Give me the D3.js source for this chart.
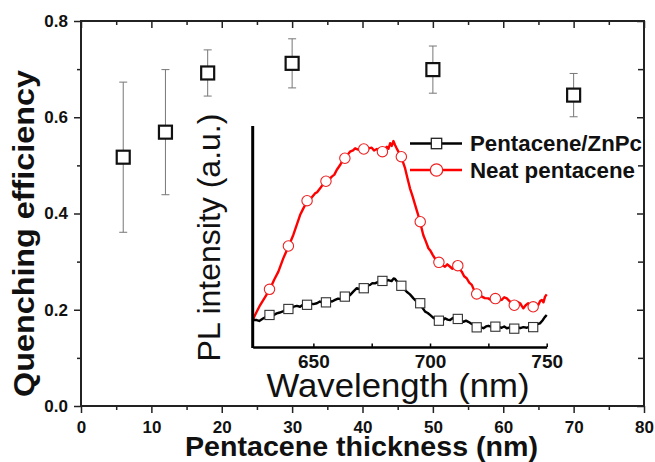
<!DOCTYPE html>
<html><head><meta charset="utf-8">
<script src="https://cdn.jsdelivr.net/npm/d3@7/dist/d3.min.js"></script>
<style>
html,body{margin:0;padding:0;background:#fff;}
svg{display:block;font-family:"Liberation Sans",Arial,sans-serif;}
</style></head>
<body><svg id="c" width="655" height="462"></svg>
<script>
// ---- main chart data ----
const thickness = [6, 12, 18, 30, 50, 70];
const efficiency = [0.517, 0.569, 0.692, 0.712, 0.699, 0.646];
const errors = [0.156, 0.130, 0.048, 0.051, 0.049, 0.045];
const xTicks = [0, 10, 20, 30, 40, 50, 60, 70, 80];
const yTicks = [0.0, 0.2, 0.4, 0.6, 0.8];

// ---- inset data (PL spectra, arbitrary units) ----
const wlTicks = [650, 700, 750];
const neatWl = [624.0,625.5,627.2,629.3,631.4,633.2,635.0,637.1,639.3,641.4,642.8,644.3,645.6,647.2,648.9,650.7,651.6,652.9,654.1,655.4,656.6,657.9,659.0,660.0,661.6,663.3,664.5,665.7,667.0,667.9,669.5,671.4,672.8,674.0,675.0,676.0,677.2,678.3,679.3,680.5,681.5,682.2,682.9,683.6,684.3,685.0,685.7,687.6,689.3,690.3,691.4,692.5,693.6,694.7,695.7,697.1,698.2,699.3,700.2,701.2,702.4,703.6,705.0,706.4,707.4,708.6,709.6,710.6,711.9,713.6,714.6,715.7,716.8,717.9,719.0,720.0,721.0,722.2,723.5,725.0,726.4,727.9,729.2,730.7,731.8,732.9,734.3,735.2,736.1,737.3,738.6,739.3,740.0,741.0,742.1,743.2,744.3,745.4,746.4,747.2,747.9,748.6,749.3,750.0];
const neatPL = [12.2,15.5,19.0,22.6,26.2,30.4,34.1,40.1,45.4,50.7,55.0,59.7,62.5,65.7,67.2,69.5,70.0,71.8,73.6,74.8,75.6,77.1,78.0,80.1,82.6,85.7,86.8,88.4,89.0,89.9,89.2,89.6,89.1,90.0,90.2,88.9,89.6,88.8,88.4,89.5,90.6,89.7,92.2,91.0,93.2,91.4,89.9,86.1,80.9,76.5,71.8,68.3,64.3,60.5,56.7,50.7,47.8,44.7,43.5,41.6,39.6,38.6,37.2,36.3,37.4,36.3,35.4,36.8,36.3,34.1,32.0,31.1,29.1,28.1,25.4,23.5,23.9,22.8,22.1,22.0,21.1,22.3,21.0,21.3,22.5,22.0,20.5,19.5,19.0,20.4,19.8,18.6,17.5,18.9,19.8,18.4,18.6,19.6,19.0,20.8,21.3,20.2,22.8,23.8];
const blendWl = [624.0,625.7,626.8,628.6,629.8,631.1,632.5,634.3,635.6,637.2,639.0,640.4,641.6,642.9,644.3,645.7,647.2,648.5,650.0,651.5,652.8,654.0,655.4,656.8,658.0,659.3,660.6,662.0,663.3,664.5,665.7,667.2,668.6,670.0,671.4,672.8,674.3,675.3,676.4,677.8,679.3,680.8,682.1,683.5,684.4,685.0,686.0,687.2,688.6,690.0,691.4,692.9,694.2,695.4,696.6,697.9,699.0,700.0,701.2,702.4,703.6,704.6,705.5,706.4,707.5,708.6,709.8,710.8,711.9,713.0,714.3,715.4,716.4,717.6,718.8,720.0,721.4,722.9,724.0,725.0,726.5,727.9,729.3,730.7,731.8,732.9,734.5,736.1,737.3,738.6,740.0,741.5,742.9,744.3,745.7,747.1,748.2,749.1,750.0];
const blendPL = [12.2,12.2,11.8,13.0,13.6,14.5,14.2,15.2,15.6,16.2,17.8,17.3,18.3,18.6,18.2,19.2,19.3,19.7,19.4,19.8,20.6,20.0,20.2,20.9,20.6,21.3,21.9,21.6,22.8,22.9,23.5,25.2,26.6,26.1,26.8,27.7,28.1,28.9,28.8,29.5,30.0,29.6,30.3,29.8,31.0,30.8,29.4,27.7,26.5,25.0,23.8,22.0,20.6,19.8,18.0,16.0,15.4,14.5,13.4,12.6,11.8,12.6,12.1,13.0,12.4,12.2,13.1,12.5,13.0,12.4,11.4,11.9,11.4,10.6,10.1,9.2,9.0,8.5,9.3,9.6,9.1,9.6,9.2,8.7,9.3,8.5,8.9,8.7,9.1,8.5,9.0,8.7,9.4,10.0,10.3,10.7,12.0,13.4,14.5];
const markerWl = [631.2,639.3,647.3,655.4,663.5,671.6,679.6,687.7,695.8,703.8,711.9,720.0,728.0,736.1,744.2];
const neatMarkers = [26.1,45.7,66.2,75.0,85.4,89.6,88.4,86.1,56.7,38.3,36.8,24.0,21.9,18.9,18.2];
const blendMarkers = [14.5,17.2,19.1,20.2,22.8,26.6,29.9,27.7,19.8,11.9,12.7,8.9,9.2,8.3,9.0];
const legendLabels = ["Pentacene/ZnPc", "Neat pentacene"];

const svg = d3.select("#c");

// ---- main scales ----
const x = d3.scaleLinear().domain([0, 80]).range([81, 644]);
const y = d3.scaleLinear().domain([0, 0.8]).range([406, 21]);

// ---- inset scales ----
const ix = d3.scaleLinear().domain([624, 750]).range([252.7, 546.7]);
const iy = d3.scaleLinear().domain([0, 100]).range([347, 126]);

// ---- main data: error bars + squares ----
const gm = svg.append("g");
thickness.forEach((t, i) => {
  const cx = x(t), lo = y(efficiency[i] - errors[i]), hi = y(efficiency[i] + errors[i]);
  gm.append("line").attr("x1", cx).attr("x2", cx).attr("y1", lo).attr("y2", hi)
    .attr("stroke", "#777").attr("stroke-width", 1);
  [lo, hi].forEach(v => gm.append("line").attr("x1", cx - 4).attr("x2", cx + 4)
    .attr("y1", v).attr("y2", v).attr("stroke", "#777").attr("stroke-width", 1));
});
gm.selectAll("rect.pt").data(thickness).join("rect").attr("class", "pt")
  .attr("x", d => x(d) - 6.5).attr("y", (d, i) => y(efficiency[i]) - 6.5)
  .attr("width", 13).attr("height", 13)
  .attr("fill", "#fff").attr("stroke", "#111").attr("stroke-width", 2.2);

// ---- inset ----
const gi = svg.append("g");
const line = d3.line().x(d => ix(d[0])).y(d => iy(d[1]));
gi.append("path").datum(neatWl.map((w, i) => [w, neatPL[i]])).attr("d", line)
  .attr("fill", "none").attr("stroke", "#ff0000").attr("stroke-width", 2.4).attr("stroke-linejoin", "round");
gi.append("path").datum(blendWl.map((w, i) => [w, blendPL[i]])).attr("d", line)
  .attr("fill", "none").attr("stroke", "#000").attr("stroke-width", 2.4).attr("stroke-linejoin", "round");
gi.selectAll("circle.nm").data(markerWl).join("circle").attr("class", "nm")
  .attr("cx", d => ix(d)).attr("cy", (d, i) => iy(neatMarkers[i])).attr("r", 5.2)
  .attr("fill", "#fff").attr("stroke", "#ee2222").attr("stroke-width", 1.1);
gi.selectAll("rect.bm").data(markerWl).join("rect").attr("class", "bm")
  .attr("x", d => ix(d) - 4.6).attr("y", (d, i) => iy(blendMarkers[i]) - 4.6)
  .attr("width", 9.2).attr("height", 9.2)
  .attr("fill", "#fff").attr("stroke", "#333").attr("stroke-width", 1.1);

// inset axes
gi.append("line").attr("x1", ix(624)).attr("x2", ix(624)).attr("y1", iy(100)).attr("y2", iy(0) + 1)
  .attr("stroke", "#000").attr("stroke-width", 3);
const iax = d3.axisBottom(ix).tickValues([650, 675, 700, 725, 750]).tickSizeInner(-3.5).tickSizeOuter(0)
  .tickPadding(8).tickFormat(d => wlTicks.includes(d) ? d : "");
const giax = gi.append("g").attr("transform", `translate(0,${iy(0)})`).call(iax);
giax.select(".domain").attr("stroke", "#000").attr("stroke-width", 2.5);
giax.selectAll(".tick line").attr("stroke", "#000").attr("stroke-width", 1.5);
giax.selectAll(".tick text").attr("fill", "#111").attr("font-size", 19).attr("font-weight", "bold")
  .attr("font-family", "Liberation Sans, Arial, sans-serif");
gi.append("text").attr("x", 398).attr("y", 397).attr("text-anchor", "middle")
  .attr("font-size", 33).attr("fill", "#111").attr("textLength", 263).attr("lengthAdjust", "spacingAndGlyphs")
  .text("Wavelength (nm)");
gi.append("text").attr("transform", "translate(220,237.5) rotate(-90)").attr("text-anchor", "middle")
  .attr("font-size", 32).attr("fill", "#111").text("PL intensity (a.u.)");

// legend
const lg = svg.append("g");
const legY = [143.5, 170];
lg.append("line").attr("x1", 410).attr("x2", 462).attr("y1", legY[0]).attr("y2", legY[0]).attr("stroke", "#000").attr("stroke-width", 2.4);
lg.append("rect").attr("x", 436.5 - 5.2).attr("y", legY[0] - 5.2).attr("width", 10.4).attr("height", 10.4)
  .attr("fill", "#fff").attr("stroke", "#222").attr("stroke-width", 1.3);
lg.append("line").attr("x1", 410).attr("x2", 462).attr("y1", legY[1]).attr("y2", legY[1]).attr("stroke", "#ff0000").attr("stroke-width", 2.4);
lg.append("circle").attr("cx", 436.5).attr("cy", legY[1]).attr("r", 6.2)
  .attr("fill", "#fff").attr("stroke", "#ee2222").attr("stroke-width", 1.3);
legendLabels.forEach((t, i) => lg.append("text").attr("x", 470).attr("y", legY[i] + 7.5)
  .attr("font-size", 22.5).attr("font-weight", "bold").attr("fill", "#111")
  .attr("textLength", i === 0 ? 172 : 165).attr("lengthAdjust", "spacingAndGlyphs").text(t));

// ---- main axes ----
function styleAxis(g) {
  g.select(".domain").remove();
  g.selectAll(".tick line").attr("stroke", "#222").attr("stroke-width", 1.5);
  g.selectAll(".tick text").attr("fill", "#111").attr("font-size", 17).attr("font-weight", "bold")
    .attr("font-family", "Liberation Sans, Arial, sans-serif");
}
const xMinor = d3.range(5, 80, 10);
const yMinor = [0.1, 0.3, 0.5, 0.7];
// bottom
styleAxis(svg.append("g").attr("transform", "translate(0,406)")
  .call(d3.axisBottom(x).tickValues(xTicks).tickSize(7).tickPadding(8).tickFormat(d3.format("d"))));
styleAxis(svg.append("g").attr("transform", "translate(0,406)")
  .call(d3.axisBottom(x).tickValues(xMinor).tickSize(4).tickFormat("")));
// top (inward)
styleAxis(svg.append("g").attr("transform", "translate(0,21)")
  .call(d3.axisTop(x).tickValues(xTicks).tickSize(-7).tickFormat("")));
styleAxis(svg.append("g").attr("transform", "translate(0,21)")
  .call(d3.axisTop(x).tickValues(xMinor).tickSize(-4).tickFormat("")));
// left
styleAxis(svg.append("g").attr("transform", "translate(81,0)")
  .call(d3.axisLeft(y).tickValues(yTicks).tickSize(7).tickPadding(6).tickFormat(d3.format(".1f"))));
styleAxis(svg.append("g").attr("transform", "translate(81,0)")
  .call(d3.axisLeft(y).tickValues(yMinor).tickSize(4).tickFormat("")));
// right (inward)
styleAxis(svg.append("g").attr("transform", "translate(644,0)")
  .call(d3.axisRight(y).tickValues(yTicks).tickSize(-7).tickFormat("")));
styleAxis(svg.append("g").attr("transform", "translate(644,0)")
  .call(d3.axisRight(y).tickValues(yMinor).tickSize(-6).tickFormat("")));
// frame
svg.append("rect").attr("x", 81).attr("y", 21).attr("width", 563).attr("height", 385)
  .attr("fill", "none").attr("stroke", "#222").attr("stroke-width", 2);

// axis titles
svg.append("text").attr("x", 361.5).attr("y", 456).attr("text-anchor", "middle")
  .attr("font-size", 28.5).attr("font-weight", "bold").attr("fill", "#111")
  .attr("textLength", 353).attr("lengthAdjust", "spacingAndGlyphs").text("Pentacene thickness (nm)");
svg.append("text").attr("transform", "translate(34,233.5) rotate(-90)").attr("text-anchor", "middle")
  .attr("font-size", 30).attr("font-weight", "bold").attr("fill", "#111")
  .attr("textLength", 327).attr("lengthAdjust", "spacingAndGlyphs").text("Quenching efficiency");
</script></body></html>
